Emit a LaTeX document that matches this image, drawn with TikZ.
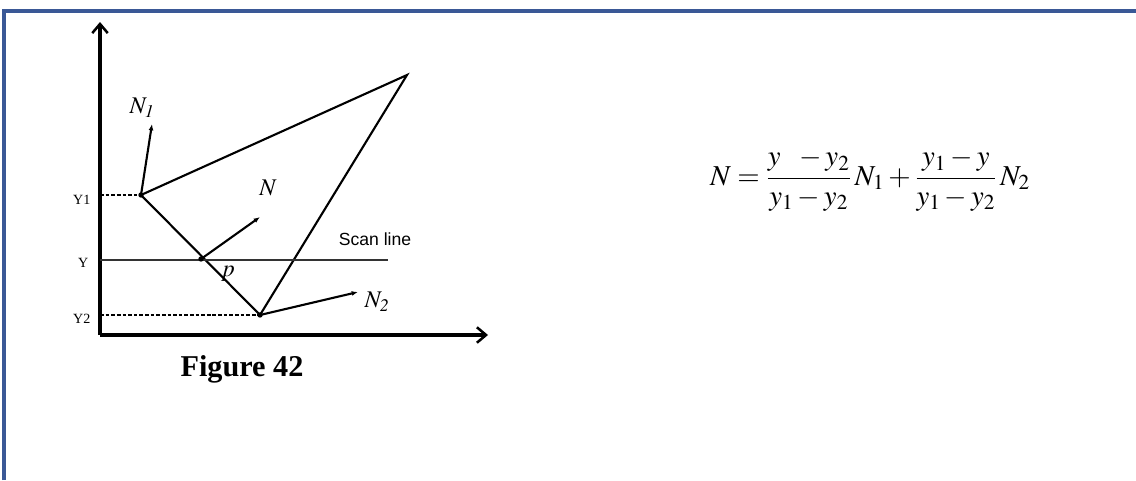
\documentclass[tikz,border=0pt]{standalone}
\usepackage{mathptmx}
\usepackage{fontspec}
\setmainfont{Liberation Serif}
\newfontfamily\scanfont{Liberation Sans}
\usepackage{amsmath}
\usetikzlibrary{arrows.meta,positioning,calc}
\definecolor{frameblue}{RGB}{58,88,150}

\begin{document}
\begin{tikzpicture}[x=0.025cm,y=-0.025cm,
    axis/.style={line width=2.4pt,-{Straight Barb[length=6.5pt,width=11pt,line width=1.8pt]}},
    edge/.style={line width=1.5pt},
    normal/.style={line width=1.5pt,-{Latex[length=4.5pt,width=3.5pt]}},
    guide/.style={line width=1.1pt,dash pattern=on 2.6pt off 1.4pt},
    ylab/.style={font=\fontsize{10}{11}\selectfont,anchor=east,inner sep=1pt},
    vec/.style={font=\fontsize{17}{19}\selectfont,inner sep=1pt}]
  \useasboundingbox (0,0) rectangle (1136,480);
  % page frame
  \draw[frameblue,line width=2.2pt] (4,480) -- (4,11) -- (1136,11);

  % axes
  \coordinate (o) at (100,335);
  \draw[axis] (o) -- (100,22);
  \draw[axis] (o) -- (488,335);

  % triangle and scan line
  \coordinate (v1) at (141,195);
  \coordinate (v2) at (260,315);
  \coordinate (v3) at (407,75);
  \coordinate (p) at (201,259);
  \draw[edge] (v1) -- (v3) -- (v2) -- cycle;
  \draw[line width=1.7pt,black!80] (100,260) -- (388,260);
  \draw[guide] (100,195) -- (v1);
  \draw[guide] (100,315) -- (v2);
  \foreach \c in {v1,v2,p}
    \fill (\c) circle (1.9pt);

  % normals
  \coordinate (n1) at (152,124);
  \coordinate (n) at (260,217);
  \coordinate (n2) at (358,292);
  \draw[normal] (v1) -- (n1);
  \draw[normal] (p) -- (n);
  \draw[normal] (v2) -- (n2);
  \node[vec] (n1lab) at (142,108) {$N_{\mathit 1}$};
  \node[vec] (nlab) at (268,188) {$N$};
  \node[vec] (n2lab) at (377,302) {$N_{\mathit 2}$};
  \node[vec] (plab) at (228,274) {$p$};

  % axis labels
  \node[ylab] (y1lab) at (92,200) {Y1};
  \node[ylab] (ylab) at (90,263) {Y};
  \node[ylab] (y2lab) at (92,319) {Y2};
  \node[font=\scanfont\fontsize{12.5}{14}\selectfont] (scan) at (375,239) {Scan line};

  \node[font=\bfseries\fontsize{21.5}{24}\selectfont] (cap) at (242,369) {Figure 42};

  % interpolation of the normal
  \node[font=\fontsize{20.5}{24}\selectfont] (formula) at (870,180)
    {$N=\dfrac{y\ \ -y_2}{y_1-y_2}\,N_1+\dfrac{y_1-y}{y_1-y_2}\,N_2$};
\end{tikzpicture}
\end{document}
